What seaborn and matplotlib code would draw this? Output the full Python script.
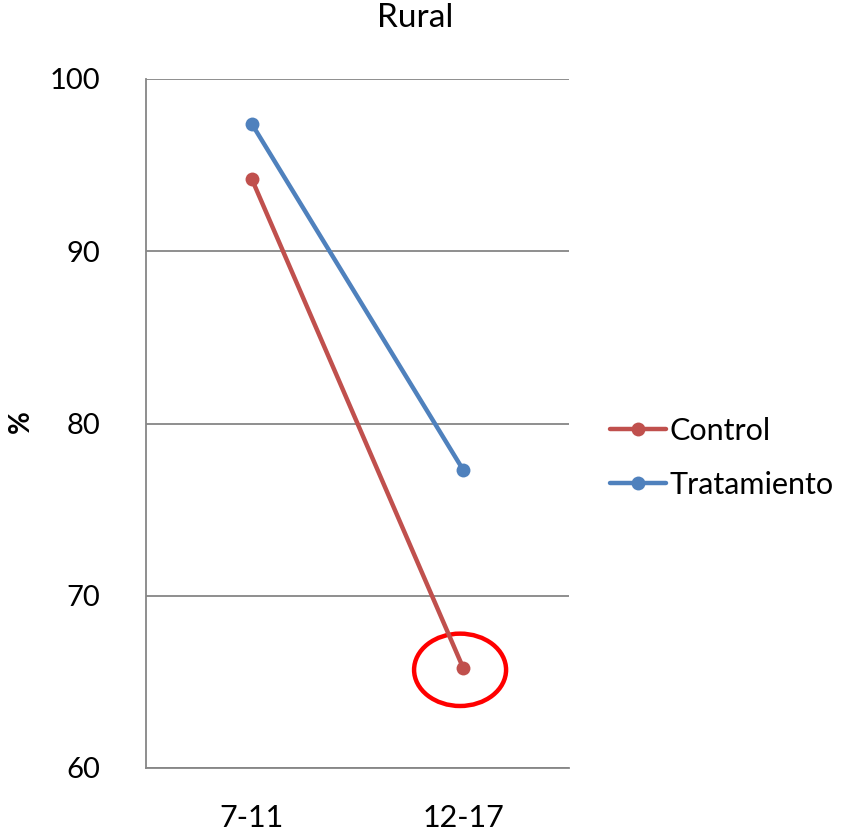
import matplotlib
matplotlib.use("Agg")
import matplotlib.pyplot as plt
from matplotlib.patches import Ellipse
from matplotlib.lines import Line2D
import seaborn as sns
import pandas as pd

categories = ["7-11", "12-17"]
control = [94.2, 65.8]
tratamiento = [97.4, 77.3]
series_names = ["Control", "Tratamiento"]
y_ticks = [60, 70, 80, 90, 100]
title = "Rural"
ylabel = "%"

sns.set_theme(style="white")
plt.rcParams['font.family'] = ['Lato', 'DejaVu Sans']
plt.rcParams['text.color'] = 'black'
plt.rcParams['xtick.color'] = 'black'
plt.rcParams['ytick.color'] = 'black'
plt.rcParams['axes.labelcolor'] = 'black'

FS = 22

df = pd.DataFrame({
    "Edad": categories * 2,
    "Valor": control + tratamiento,
    "Grupo": [series_names[0]] * 2 + [series_names[1]] * 2,
})
df["pos"] = [0, 1, 0, 1]

fig = plt.figure(figsize=(8.5, 8.4), dpi=100)
ax = fig.add_axes([146/850, 1-768/840, (569-146)/850, (768-79)/840])

palette = {"Control": "#C0504D", "Tratamiento": "#4F81BD"}
sns.lineplot(data=df, x="pos", y="Valor", hue="Grupo", palette=palette,
             marker="o", markersize=10, markeredgewidth=0, linewidth=3.2,
             ax=ax, legend=False)

ax.set_xlim(-0.5, 1.5)
ax.set_ylim(60, 100)
ax.set_xticks([0, 1])
ax.set_xticklabels(categories, fontsize=FS)
ax.set_yticks(y_ticks)
ax.set_yticklabels([str(t) for t in y_ticks], fontsize=21)
ax.tick_params(axis="both", length=0)
ax.tick_params(axis="x", pad=26)
ax.tick_params(axis="y", pad=33)
ax.set_xlabel("")
ax.set_ylabel("")

ax.grid(axis="y", color="#868686", linewidth=1.3)
ax.grid(axis="x", visible=False)
for s in ["top", "right"]:
    ax.spines[s].set_visible(False)
for s in ["left", "bottom"]:
    ax.spines[s].set_color("#868686")
    ax.spines[s].set_linewidth(1.3)

# highlight ellipse around last Control point
ell = Ellipse((1 - 0.015, control[1] - 0.1), width=0.435, height=4.2,
              fill=False, edgecolor="#FF0000", linewidth=3.2, clip_on=False)
ax.add_patch(ell)

fig.text(21/850, 1-422/840, ylabel, ha="center", va="center", rotation=90,
         fontsize=20, fontweight="bold")
fig.text(415/850, 1-18/840, title, ha="center", va="center", fontsize=24)

handles = [Line2D([0], [0], color=palette[n], marker="o", markersize=10,
                  markeredgewidth=0, linewidth=3.2) for n in series_names]
fig.legend(handles, series_names, loc="center left",
           bbox_to_anchor=(582/850, 1-458/840), frameon=False, fontsize=FS,
           handlelength=1.85, handletextpad=0.1, labelspacing=0.85)

fig.savefig("out.png", dpi=100)
